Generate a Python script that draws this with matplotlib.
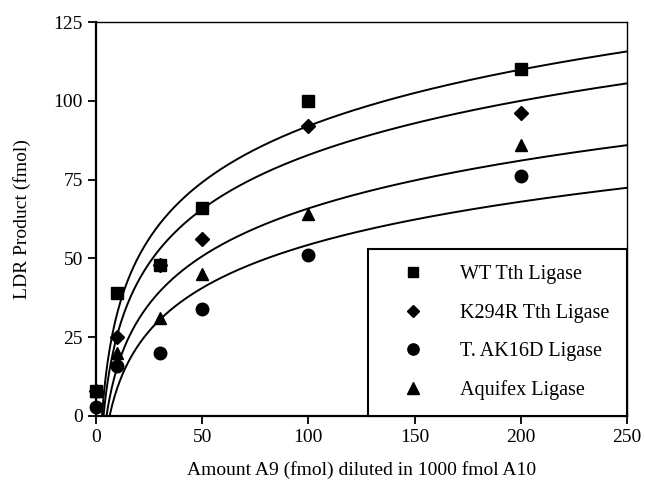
"""LDR product vs amount of A9 diluted in A10, with log fits per ligase."""

import matplotlib

matplotlib.use("Agg")
import matplotlib.pyplot as plt
import numpy as np

plt.rcParams["font.family"] = ["Liberation Serif", "DejaVu Serif"]

amount_a9 = [0, 10, 30, 50, 100, 200]

wt_tth = [8, 39, 48, 66, 100, 110]
k294r_tth = [8, 25, 48, 56, 92, 96]
ak16d = [3, 16, 20, 34, 51, 76]
aquifex = [8, 20, 31, 45, 64, 86]

# log fit coefficients (y = a*ln(x) + b)
fit_slopes = [25.8, 24.8, 21.9, 19.75]
fit_offsets = [-26.8, -31.4, -35.0, -36.65]

series_labels = ["WT Tth Ligase", "K294R Tth Ligase", "T. AK16D Ligase", "Aquifex Ligase"]


def main() -> None:
    fig = plt.figure(figsize=(6.45, 4.87), dpi=100)
    ax = fig.add_axes([0.1488, 0.1458, 0.8232, 0.809])

    for a, b in zip(fit_slopes, fit_offsets):
        x0 = np.exp(-b / a)
        xs = np.linspace(x0, 250, 400)
        ax.plot(xs, a * np.log(xs) + b, color="black", lw=1.4, zorder=2)

    marker_kw = dict(color="black", linestyle="none", zorder=3, clip_on=False)
    h_wt, = ax.plot(amount_a9, wt_tth, marker="s", markersize=8.5, **marker_kw)
    h_k, = ax.plot(amount_a9, k294r_tth, marker="D", markersize=7, **marker_kw)
    h_ak, = ax.plot(amount_a9, ak16d, marker="o", markersize=9, **marker_kw)
    h_aq, = ax.plot(amount_a9, aquifex, marker="^", markersize=9, **marker_kw)

    ax.set_xlim(0, 250)
    ax.set_ylim(0, 125)
    ax.set_xticks([0, 50, 100, 150, 200, 250])
    ax.set_yticks([0, 25, 50, 75, 100, 125])
    ax.tick_params(direction="out", length=6, width=1.3, labelsize=14, colors="black")

    for side in ["left", "bottom"]:
        ax.spines[side].set_linewidth(1.6)
    for side in ["top", "right"]:
        ax.spines[side].set_linewidth(1.0)

    ax.set_xlabel("Amount A9 (fmol) diluted in 1000 fmol A10", fontsize=14, labelpad=11)
    ax.set_ylabel("LDR Product (fmol)", fontsize=14, labelpad=16)

    leg = ax.legend(
        [h_wt, h_k, h_ak, h_aq],
        series_labels,
        loc="lower left",
        bbox_to_anchor=(0.512, 0.0, 0.488, 0.429),
        mode="expand",
        frameon=True,
        fancybox=False,
        framealpha=1,
        edgecolor="black",
        fontsize=14.5,
        labelspacing=0.95,
        borderpad=0.8,
        borderaxespad=0,
        handlelength=2.9,
        handletextpad=0.9,
        markerscale=0.9,
    )
    leg.get_frame().set_linewidth(1.5)

    fig.savefig("out.png", dpi=100)
    plt.close(fig)


if __name__ == "__main__":
    main()
